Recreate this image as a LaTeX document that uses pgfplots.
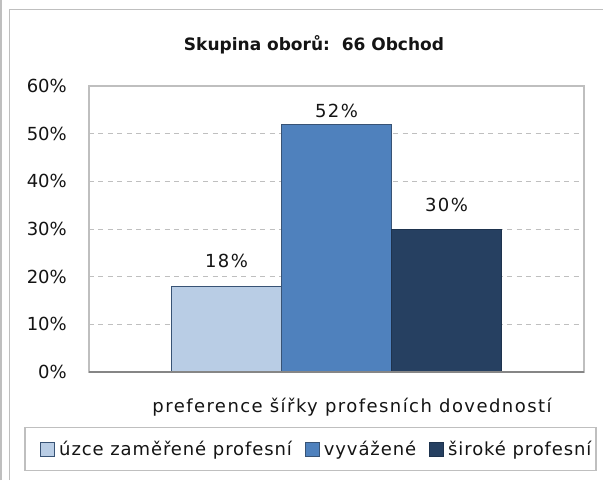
\documentclass[border=0pt]{standalone}
\usepackage{fontspec}
\setmainfont{DejaVu Sans}
\newfontfamily\lsA[LetterSpace=5]{DejaVu Sans}
\newfontfamily\lsB[LetterSpace=8]{DejaVu Sans}
\usepackage{pgfplots}
\pgfplotsset{compat=1.18}
\definecolor{barA}{RGB}{185,205,229}
\definecolor{barB}{RGB}{79,129,189}
\definecolor{barC}{RGB}{38,64,97}
\definecolor{edge}{RGB}{56,83,117}
\definecolor{frame}{RGB}{191,191,191}
\definecolor{axisln}{RGB}{134,134,134}
\definecolor{txt}{RGB}{20,20,20}
\begin{document}
\begin{tikzpicture}[x=1pt,y=1pt]
\useasboundingbox (0,0) rectangle (603,480);
\fill[white] (0,0) rectangle (603,480);
\draw[frame, line width=1.5pt] (1,0) -- (1,480);
\draw[frame, line width=1.5pt] (9.5,0) -- (9.5,470.5) -- (603,470.5);
\node[anchor=base, text=txt, font=\bfseries\fontsize{17}{19}\selectfont] at (314,429) {Skupina oborů:\ \ 66 Obchod};
\node[anchor=base, text=txt, font=\lsB\fontsize{18}{20}\selectfont] at (352,68) {preference šířky profesních dovedností};
\draw[frame, line width=1.2pt] (25,9.3) rectangle (596,52.3);
\begin{axis}[
  at={(89pt,108pt)}, anchor=south west, scale only axis,
  width=495pt, height=286pt,
  ymin=0, ymax=60, ytick={0,10,...,60},
  yticklabel={\pgfmathprintnumber{\tick}\%},
  /pgf/number format/assume math mode=true,
  yticklabel style={anchor=east, inner sep=0pt, xshift=-22pt, text=txt, font=\fontsize{18}{20}\selectfont},
  xmin=-1, xmax=1, xtick=\empty,
  major tick length=0pt,
  ybar=0pt, bar width=110pt,
  ymajorgrids,
  grid style={dash pattern=on 5pt off 4.5pt, color=frame, line width=0.9pt},
  axis line style={draw=frame, line width=1.2pt},
  nodes near coords={\pgfmathprintnumber{\pgfplotspointmeta}\%},
  nodes near coords style={anchor=base, inner sep=0pt, text=txt, font=\lsB\fontsize{18}{20}\selectfont},
  legend columns=3,
  legend style={at={(-0.105,-0.271)}, anchor=west, draw=none, fill=none,
    font=\lsA\fontsize{18}{20}\selectfont, text=txt,
    nodes={inner sep=0pt},
    /tikz/every odd column/.append style={column sep=4pt},
    /tikz/every even column/.append style={column sep=13pt}},
  legend image code/.code={\draw[#1,line width=1pt] (0pt,-7pt) rectangle (14pt,7pt);},
  clip=false,
]
\addplot[fill=barA, draw=edge, line width=1pt, every node near coord/.append style={yshift=19pt}] coordinates {(0,18)};
\addplot[fill=barB, draw=edge, line width=1pt, every node near coord/.append style={yshift=7pt}] coordinates {(0,52)};
\addplot[fill=barC, draw=barC!80!black, line width=1pt, every node near coord/.append style={yshift=18pt}] coordinates {(0,30)};
\legend{úzce zaměřené profesní, vyvážené, široké profesní}
\draw[axisln, line width=1.2pt] (rel axis cs:0,0) -- (rel axis cs:1,0);
\end{axis}
\end{tikzpicture}
\end{document}
